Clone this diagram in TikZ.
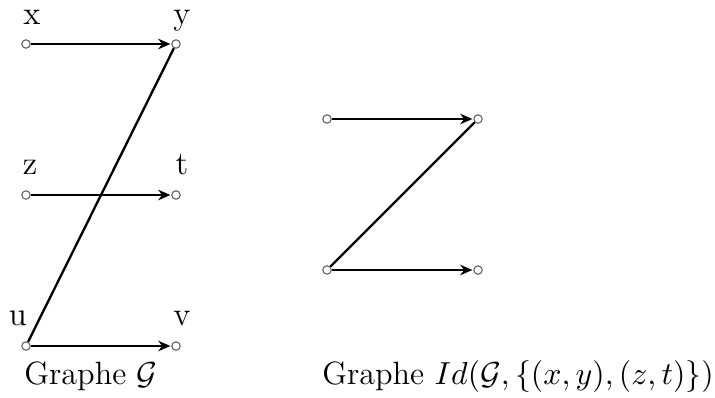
\documentclass[tikz,border=0pt]{standalone}
\usepackage{amsmath,amssymb}
\usepackage{xcolor}
\usepackage{tikz}
\usetikzlibrary{arrows.meta,positioning}
\definecolor{corcinza}{RGB}{90,90,90}

\begin{document}
\begin{tikzpicture}[
  x=0.0121cm, y=-0.0121cm,
  sommet/.style={circle, draw=corcinza, fill=white, line width=0.35pt,
                 inner sep=0pt, minimum size=2.9pt},
  etiq/.style={font=\fontsize{11.4}{14}\selectfont, inner sep=0pt, anchor=base},
  legende/.style={font=\fontsize{11.1}{14}\selectfont, inner sep=0pt, anchor=base},
  arc/.style={-{Stealth[length=4.2pt,width=3.6pt]}, line width=0.8pt, shorten >=0.3pt},
  arete/.style={line width=0.8pt}
]
  \useasboundingbox (0,0) rectangle (715,397);

  % graphe G
  \node[sommet] (x) at (26,44) {};
  \node[sommet] (y) at (176,44) {};
  \node[sommet] (z) at (26,195) {};
  \node[sommet] (t) at (176,195) {};
  \node[sommet] (u) at (26,346) {};
  \node[sommet] (v) at (176,346) {};

  \node[etiq] (lx) at (32,24) {x};
  \node[etiq] (ly) at (182,24) {y};
  \node[etiq] (lz) at (30,174) {z};
  \node[etiq] (lt) at (182,174) {t};
  \node[etiq] (lu) at (18,325) {u};
  \node[etiq] (lv) at (182,325) {v};

  \draw[arc] (x) -- (y);
  \draw[arc] (z) -- (t);
  \draw[arc] (u) -- (v);
  \draw[arete] (y) -- (u);

  % graphe Id
  \node[sommet] (a) at (327,119) {};
  \node[sommet] (b) at (478,119) {};
  \node[sommet] (c) at (327,270) {};
  \node[sommet] (d) at (478,270) {};

  \draw[arc] (a) -- (b);
  \draw[arc] (c) -- (d);
  \draw[arete] (b) -- (c);

  \node[legende] (cap1) at (91,384) {Graphe $\mathcal{G}$};
  \node[legende] (cap2) at (518,384) {Graphe $Id(\mathcal{G},\{(x,y),(z,t)\})$};
\end{tikzpicture}
\end{document}
